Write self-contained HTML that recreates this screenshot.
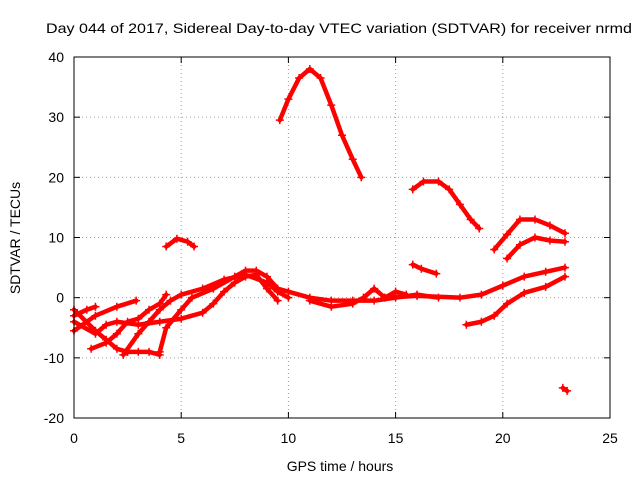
<!DOCTYPE html>
<html><head><meta charset="utf-8"><style>
body{margin:0;background:#fff}
svg{display:block;font-family:"Liberation Sans",sans-serif}
</style></head><body>
<svg id="chart" width="640" height="480">
<text x="339" y="33" text-anchor="middle" font-size="14" textLength="586" lengthAdjust="spacingAndGlyphs">Day 044 of 2017, Sidereal Day-to-day VTEC variation (SDTVAR) for receiver nrmd</text>
<text x="340" y="471" text-anchor="middle" font-size="14">GPS time / hours</text>
<text transform="translate(20,238) rotate(-90)" text-anchor="middle" font-size="14">SDTVAR / TECUs</text>
<g id="grid"></g><g id="series"></g>
<rect x="74" y="57" width="536" height="361" fill="none" stroke="#000"/>
</svg>
<script>
const xTicks=[0,5,10,15,20,25];
const yTicks=[-20,-10,0,10,20,30,40];
const tracks=[
[[9.6,29.5],[10,33],[10.5,36.5],[11,38],[11.5,36.5],[12,32],[12.5,27],[13,23],[13.4,20]],
[[4.3,8.5],[4.8,9.8],[5.3,9.3],[5.6,8.5]],
[[15.8,18],[16.3,19.3],[17,19.3],[17.5,18],[18,15.5],[18.5,13],[18.9,11.5]],
[[15.8,5.5],[16.2,4.8],[16.9,4]],
[[19.6,8],[20.2,10.5],[20.8,13],[21.5,13],[22.2,12],[22.9,10.7]],
[[20.2,6.5],[20.8,8.8],[21.5,10],[22.2,9.5],[22.9,9.3]],
[[18.3,-4.5],[19,-4],[19.6,-3],[20.2,-1],[21,0.8],[22,1.8],[22.9,3.5]],
[[14.5,0],[16,0.3],[18,0],[19,0.5],[20,2],[21,3.5],[22,4.3],[22.9,5]],
[[22.8,-15],[23,-15.5]],
[[0,-5.5],[1,-3],[2,-1.5],[2.9,-0.5]],
[[0,-3],[0.6,-2],[1,-1.5]],
[[0,-2],[1,-5.5],[1.5,-7],[2,-8.5],[2.5,-9],[3,-9],[3.5,-9],[4,-9.5]],
[[0.8,-8.5],[1.5,-7.5],[2,-6],[2.5,-4],[3,-3.5],[3.5,-2],[4,-1],[4.3,0.5]],
[[2.3,-9.5],[3,-6],[3.5,-4],[4,-2],[4.5,-0.5],[5,0.5],[6,1.5],[7,3],[8,3.8],[9,2.5],[9.5,1],[10,0]],
[[0,-4],[1,-6],[1.5,-4.5],[2,-4],[3,-4.5],[4,-4],[5,-3.5],[6,-2.5],[6.5,-1],[7,1],[7.5,2.5],[8,3.5],[8.5,3.8],[9,1.5],[9.5,-0.5]],
[[4,-9],[4.3,-5],[5,-2],[5.5,0],[6.5,1.5],[7.5,3.5],[8,4.5],[8.5,4.5],[9,3.5],[9.5,1.5],[10,1],[11,0],[12,-0.5],[13,-0.5],[14,-0.5],[15,0],[16,0.5],[17,0]],
[[11,-0.5],[12,-1.5],[13,-1],[13.5,0],[14,1.5],[14.5,0],[15,1],[15.5,0.5]]
];
const X=v=>74+v*536/25, Y=v=>418-(v+20)*361/60;
const NS="http://www.w3.org/2000/svg";
const grid=document.getElementById('grid'), ser=document.getElementById('series');
function mk(tag,at,parent){const e=document.createElementNS(NS,tag);for(const k in at)e.setAttribute(k,at[k]);parent.appendChild(e);return e;}
xTicks.forEach(t=>{const x=X(t);
 if(t>0&&t<25){const g=mk('line',{x1:x,x2:x,y1:57,y2:418,stroke:'#a0a0a0','stroke-dasharray':'1,3'},grid);
 
 }
 mk('line',{x1:x,x2:x,y1:418,y2:412,stroke:'#000'},grid);
 mk('line',{x1:x,x2:x,y1:57,y2:63,stroke:'#000'},grid);
 const l=mk('text',{x:x,y:443,'text-anchor':'middle','font-size':14},grid);l.textContent=t;
 
 
});
yTicks.forEach(t=>{const y=Y(t);
 if(t>-20&&t<40){const g=mk('line',{x1:74,x2:610,y1:y,y2:y,stroke:'#a0a0a0','stroke-dasharray':'1,3'},grid);
 
 }
 mk('line',{x1:74,x2:80,y1:y,y2:y,stroke:'#000'},grid);
 mk('line',{x1:610,x2:604,y1:y,y2:y,stroke:'#000'},grid);
 const l=mk('text',{x:64,y:y+5,'text-anchor':'end','font-size':14},grid);l.textContent=t;
 
 
});
tracks.forEach(tr=>{
 const p=mk('polyline',{points:tr.map(d=>X(d[0])+','+Y(d[1])).join(' '),fill:'none',stroke:'#f00','stroke-width':4.5,'stroke-linejoin':'round','stroke-linecap':'round'},ser);
 
 
 tr.forEach(d=>{const x=X(d[0]),y=Y(d[1]);
  mk('path',{d:`M${x-4},${y}h8M${x},${y-4}v8`,stroke:'#f00','stroke-width':1.5},ser);});
});
</script>
</body></html>
